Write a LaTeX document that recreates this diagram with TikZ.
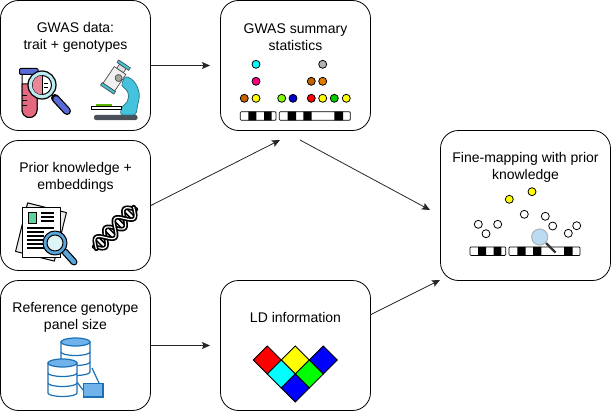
\documentclass[tikz,border=0pt]{standalone}
\usepackage{fontspec}
\setmainfont{Liberation Sans}
\usetikzlibrary{arrows.meta}
\definecolor{tubeblue}{HTML}{5B6BD5}
\definecolor{tubepink}{HTML}{E4697F}
\definecolor{lenscyan}{HTML}{BDEBF2}
\definecolor{scopecyan}{HTML}{45C3DC}
\definecolor{scopegrey}{HTML}{4A5058}
\definecolor{docgreen}{HTML}{5FD39B}
\definecolor{lensblue}{HTML}{58A6DC}
\definecolor{dbfill}{HTML}{6FB3EA}
\definecolor{dbline}{HTML}{1B70B5}
\definecolor{dotbrown}{HTML}{C46200}
\definecolor{dotorange}{HTML}{E07B00}
\definecolor{dotlime}{HTML}{80FF00}
\definecolor{dotgreen}{HTML}{00CC00}
\definecolor{dotpink}{HTML}{FF0080}
\definecolor{purecyan}{HTML}{00FFFF}
\definecolor{puregreen}{HTML}{00FF00}
\definecolor{pureblue}{HTML}{0000FF}
\definecolor{purered}{HTML}{FF0000}
\definecolor{pureyellow}{HTML}{FFFF00}
\begin{document}
\begin{tikzpicture}[
  x=1pt, y=-1pt,
  box/.style={draw, rounded corners=18pt, minimum width=150pt, minimum height=130pt,
              inner sep=0pt, line width=0.8pt},
  title/.style={font=\fontsize{14}{17}\selectfont, align=center, inner sep=0pt},
  arrow/.style={-{Stealth[length=8pt,width=7pt,inset=1.5pt]}, line width=0.8pt, black!85},
  snp/.style={draw, line width=0.8pt},
  icon/.style={draw, line width=1pt, line join=round},
  dbpart/.style={draw=dbline, line width=1.2pt},
  ]
\useasboundingbox (0,0) rectangle (611,412);

% ---- Boxes -----------------------------------------------------------------
\node[box] (gwasbox) at (75.5,65.5) {};
\node[box] (priorbox) at (75.5,205.5) {};
\node[box] (refbox) at (75.5,345.5) {};
\node[box] (sumbox) at (295.5,65.5) {};
\node[box] (ldbox) at (295.5,345.5) {};
\node[box, minimum width=170pt, minimum height=150pt] (finebox) at (525.5,205.5) {};

\node[title] (gwastxt) at (75.5,37.5) {GWAS data:\\trait + genotypes};
\node[title] (priortxt) at (75.5,177.5) {Prior knowledge +\\embeddings};
\node[title] (reftxt) at (75.5,317.5) {Reference genotype\\panel size};
\node[title] (sumtxt) at (295.5,37.5) {GWAS summary\\statistics};
\node[title] (ldtxt) at (295.5,317.5) {LD information};
\node[title] (finetxt) at (525.5,167.5) {Fine-mapping with prior\\knowledge};

% ---- Connectors ------------------------------------------------------------
\coordinate (gwasin) at (210,65.5);
\coordinate (priorin) at (280,140);
\coordinate (refin) at (210,345.5);
\coordinate (sumout) at (300,140);
\coordinate (sumin) at (430,210);
\coordinate (ldout) at (370,315);
\coordinate (ldin) at (440,280);
\draw[arrow] (gwasbox.east) -- (gwasin);
\draw[arrow] (priorbox.east) -- (priorin);
\draw[arrow] (refbox.east) -- (refin);
\draw[arrow] (sumout) -- (sumin);
\draw[arrow] (ldout) -- (ldin);

% ---- Test tube and lens ----------------------------------------------------
\draw[icon, fill=white] (22,73) -- (22,110) arc[start angle=180, end angle=360, radius=7.5pt] -- (37,73) -- cycle;
\draw[icon, fill=tubepink] (22,84) -- (22,110) arc[start angle=180, end angle=360, radius=7.5pt] -- (37,84) -- cycle;
\draw[icon, fill=tubeblue, rounded corners=1pt] (19.5,68.5) rectangle (38,74.5);
\draw[line width=1pt] (22,96) -- (27,96) (22,101) -- (27,101) (22,106) -- (27,106);
\draw[line width=8pt, line cap=round] (55,98) -- (67,111);
\draw[line width=5.5pt, line cap=round, tubeblue] (56,99) -- (67,111);
\draw[icon, line width=1.2pt, fill=lenscyan] (42,85) circle[radius=14pt];
\draw[icon, fill=white] (42,85) circle[radius=9.5pt];
\fill[tubepink!80] (42,75.5) arc[start angle=90, end angle=270, radius=9.5pt] -- cycle;
\draw[line width=0.8pt] (42,75.5) -- (42,94.5) (44,83) -- (48,83) (44,87) -- (48,87);

% ---- Microscope ------------------------------------------------------------
\fill[scopegrey, rounded corners=2pt] (94,115) rectangle (137.5,120);
\draw[line width=0.7pt, fill=scopecyan, rounded corners=3pt, draw=scopecyan!60!black]
  (125,76) .. controls (136,80) and (141,92) .. (138,103) -- (136,115) -- (120,115)
  -- (122,106) .. controls (129,102) and (131,92) .. (121,86) -- cycle;
\fill[dotlime!70!black] (96,104) rectangle (112,106.5);
\draw[line width=0.7pt, fill=white] (91,106) rectangle (121,109.5);
\begin{scope}[shift={(115,78)}, rotate=-34]
  \draw[line width=0.7pt, fill=black!12, draw=black!70] (-4,-14) rectangle (4,-9);
  \draw[line width=0.7pt, fill=scopecyan, draw=black!70] (-7,-17) rectangle (7,-14);
  \draw[line width=0.7pt, fill=black!6, draw=black!70] (-7,-9) rectangle (7,11);
  \draw[line width=0.7pt, fill=scopecyan, draw=black!70] (-8,11) rectangle (8,14);
  \draw[line width=0.7pt, fill=black!35, draw=black!70] (3,-2) circle[radius=3.5pt];
\end{scope}

% ---- Document and lens -----------------------------------------------------
\begin{scope}[shift={(41,232)}, rotate=-14]
  \draw[icon, fill=black!8] (-20,-25) rectangle (20,25);
\end{scope}
\draw[icon, fill=white] (22,207) rectangle (60,257);
\draw[line width=0.6pt, fill=docgreen] (28,212) rectangle (36,223);
\foreach \ly in {213,217,221} {
  \draw[line width=1.3pt] (41,\ly) -- (54,\ly);
}
\foreach \ly/\lx in {228/54, 232/44, 236/44, 240/44, 244/44, 248/44} {
  \draw[line width=1.3pt] (27,\ly) -- (\lx,\ly);
}
\draw[line width=7pt, line cap=round] (65,252) -- (74,262);
\draw[line width=4.5pt, line cap=round, lensblue] (65,252) -- (74,262);
\draw[icon, fill=lensblue] (55,243) circle[radius=12pt];
\draw[icon, fill=lenscyan!50] (55,243) circle[radius=8pt];

% ---- DNA -------------------------------------------------------------------
\begin{scope}[shift={(115,228)}, rotate=45]
  \foreach \rx in {-22,-18,-9,-4.5,4.5,9,18,22} {
    \draw[line width=1.5pt] (\rx,-4) -- (\rx,4);
  }
  \draw[line width=4.6pt, line cap=round] plot[smooth, samples=50, domain=-28:28] (\x,{7*sin(\x*360/27)});
  \draw[line width=1.2pt, white] plot[smooth, samples=50, domain=-28:28] (\x,{7*sin(\x*360/27)});
  \draw[line width=4.6pt, line cap=round] plot[smooth, samples=50, domain=-28:28] (\x,{-7*sin(\x*360/27)});
  \draw[line width=1.2pt, white] plot[smooth, samples=50, domain=-28:28] (\x,{-7*sin(\x*360/27)});
\end{scope}

% ---- Databases -------------------------------------------------------------
\draw[dbpart] (92,368) -- (99,383) (77,382) -- (83,390);
\foreach \cx/\cy in {75.5/342, 62.5/363} {
  \draw[dbpart, fill=white] (\cx-14.5,\cy) -- (\cx-14.5,\cy+30)
    arc[start angle=180, end angle=360, x radius=14.5pt, y radius=3.5pt]
    -- (\cx+14.5,\cy) -- cycle;
  \draw[dbpart] (\cx-14.5,\cy+10) arc[start angle=180, end angle=360, x radius=14.5pt, y radius=3.5pt];
  \draw[dbpart] (\cx-14.5,\cy+20) arc[start angle=180, end angle=360, x radius=14.5pt, y radius=3.5pt];
  \draw[dbpart, fill=dbfill] (\cx,\cy) ellipse[x radius=14.5pt, y radius=4pt];
}
\draw[dbpart, fill=dbfill] (83.5,383.5) rectangle (103,397);

% ---- Summary dots ----------------------------------------------------------
\foreach \dx/\dy/\dcol in {256/64.3/purecyan, 322.7/64.3/black!30, 256/81.3/dotpink,
    311.3/81.3/dotbrown, 322.7/81.3/dotorange, 244.3/98.3/dotbrown, 256/98.3/pureyellow,
    281.7/98.3/dotlime, 293/98.3/pureblue!80!black, 311.3/98.3/purered, 322.7/98.3/pureyellow,
    334.3/98.3/dotgreen, 346.3/98.3/pureyellow} {
  \draw[snp, fill=\dcol] (\dx,\dy) circle[radius=4pt];
}

% ---- Chromosomes -----------------------------------------------------------
\foreach \sx/\sy in {0/0, 229.7/135.2} {
  \begin{scope}[shift={(\sx,\sy)}]
    \fill (248.3,111.7) rectangle (256.3,120.3) (264,111.7) rectangle (271.7,120.3);
    \fill (287.7,111.7) rectangle (296,120.3) (303.3,111.7) rectangle (311.7,120.3)
      (334.3,111.7) rectangle (343,120.3);
    \draw[line width=0.7pt, rounded corners=1pt] (240.3,111.7) rectangle (276,120.3);
    \draw[line width=0.7pt, rounded corners=1pt] (279.3,111.7) rectangle (350.3,120.3);
  \end{scope}
}

% ---- LD diamonds -----------------------------------------------------------
\foreach \qx/\qy/\qcol in {267.3/360/purered, 295.3/360/pureyellow, 323.3/360/pureblue,
    281.3/374/purecyan, 309.3/374/puregreen, 295.3/388/pureblue} {
  \draw[line width=0.8pt, fill=\qcol] (\qx-14,\qy) -- (\qx,\qy-14) -- (\qx+14,\qy) -- (\qx,\qy+14) -- cycle;
}

% ---- Fine-mapping dots -----------------------------------------------------
\foreach \dx/\dy in {509.3/199.3, 532/191.7} {
  \draw[snp, fill=pureyellow] (\dx,\dy) circle[radius=4pt];
}
\foreach \dx/\dy in {478.3/224.3, 486/233.7, 497.7/224.3, 524.3/214.3, 545.3/216.3,
    552.7/226, 568.3/233.3, 576.7/225.7} {
  \draw[snp, fill=white] (\dx,\dy) circle[radius=4pt];
}
\draw[line width=2.4pt, black!80] (546,243) -- (555.5,252.5);
\draw[line width=1.2pt, draw=lensblue!50!black!40, fill=lensblue!40] (539.7,237) circle[radius=8pt];
\end{tikzpicture}
\end{document}
